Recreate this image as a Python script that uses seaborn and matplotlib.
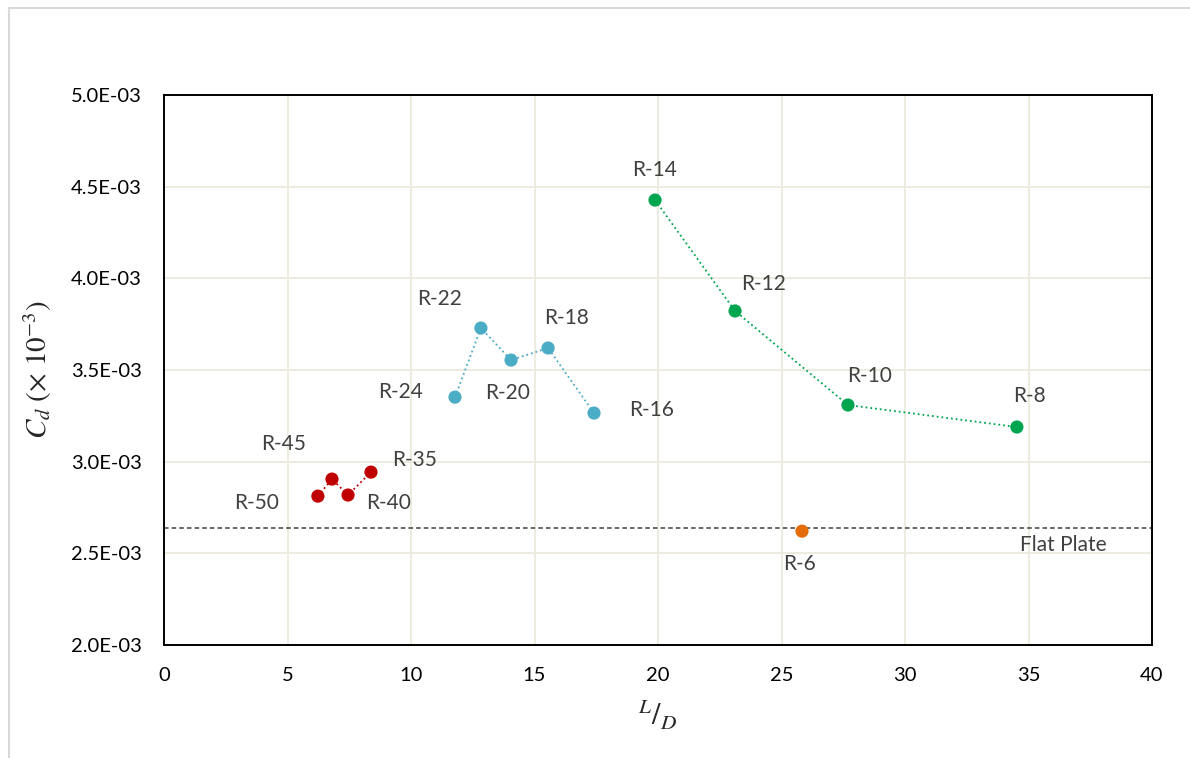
import numpy as np
import pandas as pd
import matplotlib
matplotlib.use("Agg")
from matplotlib import pyplot as plt
from matplotlib.ticker import FuncFormatter, MultipleLocator
from matplotlib.lines import Line2D
import seaborn as sns

# 데이터 (L/D, Cd)
red_names = ["R-50", "R-45", "R-40", "R-35"]
red_ld = [6.23, 6.80, 7.45, 8.38]
red_cd = [2.812e-3, 2.905e-3, 2.818e-3, 2.943e-3]

blue_names = ["R-24", "R-22", "R-20", "R-18", "R-16"]
blue_ld = [11.78, 12.83, 14.05, 15.55, 17.41]
blue_cd = [3.352e-3, 3.729e-3, 3.554e-3, 3.620e-3, 3.265e-3]

green_names = ["R-14", "R-12", "R-10", "R-8"]
green_ld = [19.88, 23.12, 27.69, 34.53]
green_cd = [4.427e-3, 3.822e-3, 3.309e-3, 3.189e-3]

orange_names = ["R-6"]
orange_ld = [25.83]
orange_cd = [2.621e-3]

flat_plate_cd = 2.638e-3

# 라벨 위치 (픽셀 오프셋)
label_offsets = {
    "R-50": (-61, -7), "R-45": (-48, 35), "R-40": (41, -8), "R-35": (44, 12),
    "R-24": (-54, 5), "R-22": (-41, 29), "R-20": (-3, -33), "R-18": (18, 30),
    "R-16": (58, 3), "R-14": (0, 30), "R-12": (28, 27), "R-10": (22, 29),
    "R-8": (13, 31), "R-6": (-3, -33),
}

sns.set_style("white")
plt.rcParams['font.family'] = ['Lato', 'DejaVu Sans']
plt.rcParams['mathtext.fontset'] = 'stix'

fig = plt.figure(figsize=(11.9, 7.58), dpi=100)
ax = fig.add_axes([164 / 1190, 1 - 645 / 758, (1152 - 164) / 1190, (645 - 95) / 758])

grid_c = "#EEEBE0"
ax.set_axisbelow(True)
ax.grid(True, color=grid_c, linewidth=1.4)

groups = [
    (red_names, red_ld, red_cd, "#C00000", ":"),
    (blue_names, blue_ld, blue_cd, "#4BACC6", ":"),
    (green_names, green_ld, green_cd, "#00A550", ":"),
    (orange_names, orange_ld, orange_cd, "#E46C0A", ""),
]

for names, ld, cd, color, ls in groups:
    df = pd.DataFrame({"ld": ld, "cd": cd})
    if len(ld) > 1:
        sns.lineplot(data=df, x="ld", y="cd", sort=False, color=color,
                     linestyle=ls, linewidth=1.3, ax=ax)
    sns.scatterplot(data=df, x="ld", y="cd", color=color, s=90,
                    edgecolor="none", ax=ax, zorder=5)
    for n, xv, yv in zip(names, ld, cd):
        dx, dy = label_offsets[n]
        ax.annotate(n, (xv, yv), xytext=(dx, dy), textcoords="offset pixels",
                    ha="center", va="center", fontsize=15, color="#404040")

ax.axhline(flat_plate_cd, color="#404040", linestyle=(0, (3, 2)), linewidth=1.1)
ax.text(36.4, 2.545e-3, "Flat Plate", ha="center", va="center",
        fontsize=15, color="#404040")

ax.set_xlim(0, 40)
ax.set_ylim(2.0e-3, 5.0e-3)
ax.xaxis.set_major_locator(MultipleLocator(5))
ax.yaxis.set_major_locator(MultipleLocator(0.5e-3))
ax.yaxis.set_major_formatter(FuncFormatter(lambda v, p: "%.1fE-03" % (v * 1e3)))
ax.tick_params(labelsize=14.5, colors="black", length=0)
ax.tick_params(axis="x", pad=16)
ax.tick_params(axis="y", pad=16)

for s in ax.spines.values():
    s.set_color("black")
    s.set_linewidth(1.4)

ax.set_xlabel(r"${}^{L}/_{D}$", fontsize=22, labelpad=10)
ax.set_ylabel(r"$C_d\ (\times\ 10^{-3})$", fontsize=21, labelpad=12)

# 바깥 테두리
fig.add_artist(Line2D([8.5 / 1190, 8.5 / 1190], [0, 1 - 7.5 / 758],
                      transform=fig.transFigure, color="#D9D9D9", linewidth=1.5))
fig.add_artist(Line2D([8.5 / 1190, 1], [1 - 7.5 / 758, 1 - 7.5 / 758],
                      transform=fig.transFigure, color="#D9D9D9", linewidth=1.5))

fig.savefig("out.png", dpi=100)
